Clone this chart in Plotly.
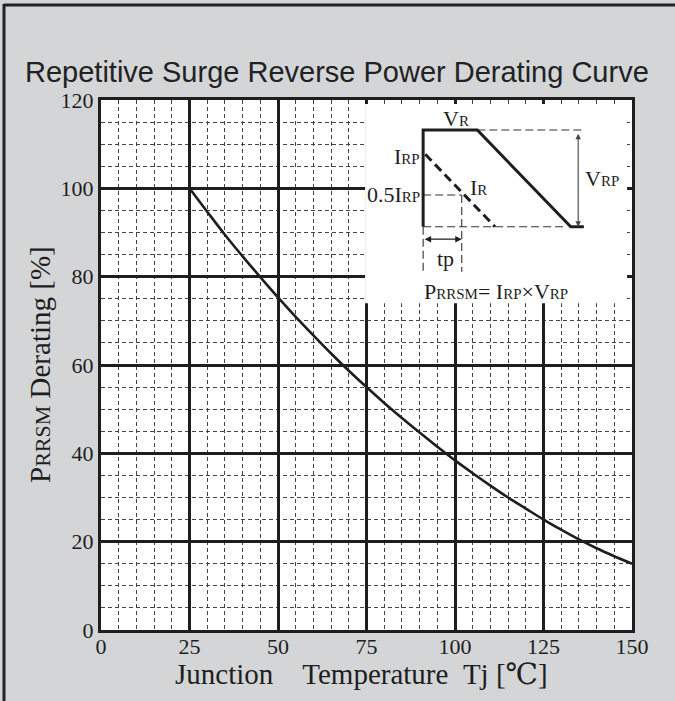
import plotly.graph_objects as go

# ---- data ----
tj = [25, 30, 35, 40, 45, 50, 55, 60, 65, 70, 75, 80, 85, 90, 95, 100,
      105, 110, 115, 120, 125, 130, 135, 140, 145, 150]
derating = [100, 94.7, 89.5, 84.6, 79.9, 75.3, 70.9, 66.7, 62.6, 58.7, 55.0,
            51.4, 48.0, 44.7, 41.5, 38.4, 35.5, 32.7, 30.0, 27.5, 25.0,
            22.7, 20.5, 18.5, 16.7, 15.0]
x_ticks = [0, 25, 50, 75, 100, 125, 150]
y_ticks = [0, 20, 40, 60, 80, 100, 120]

# inset schematic (drawn in the chart's data units)
inset_box_x = [74.6, 148.6]
inset_box_y = [74.0, 119.1]
vr_wave_x = [91.0, 91.0, 106.3, 132.7, 136.4]
vr_wave_y = [91.3, 113.2, 113.2, 91.3, 91.3]
ir_wave_x = [91.6, 111.3]
ir_wave_y = [107.7, 91.3]
guide_x = [106.3, 135.9, None, 91.0, 131.7, None, 91.0, 101.9, None,
           101.9, 101.9, None, 91.0, 91.0]
guide_y = [113.2, 113.2, None, 91.3, 91.3, None, 98.5, 98.5, None,
           98.5, 81.1, None, 91.3, 81.1]
tp_arrow = [91.0, 101.9, 88.5]      # x0, x1, y
vrp_arrow = [134.8, 112.7, 91.3]    # x, y0, y1

INK = "#1e1e1e"
SERIF = "Liberation Serif, DejaVu Serif, serif"

fig = go.Figure()

fig.add_trace(go.Scatter(x=tj, y=derating, mode="lines",
                         line=dict(color=INK, width=2.6, shape="spline"),
                         hoverinfo="skip", showlegend=False))

# schematic traces
fig.add_trace(go.Scatter(x=guide_x, y=guide_y, mode="lines",
                         line=dict(color="#333", width=1.1, dash="8px,4px"),
                         showlegend=False, hoverinfo="skip"))
fig.add_trace(go.Scatter(x=vr_wave_x, y=vr_wave_y, mode="lines",
                         line=dict(color=INK, width=3),
                         showlegend=False, hoverinfo="skip"))
fig.add_trace(go.Scatter(x=ir_wave_x, y=ir_wave_y, mode="lines",
                         line=dict(color=INK, width=3, dash="9px,5px"),
                         showlegend=False, hoverinfo="skip"))

shapes = [
    dict(type="rect", xref="x", yref="y",
         x0=inset_box_x[0], x1=inset_box_x[1],
         y0=inset_box_y[0], y1=inset_box_y[1],
         fillcolor="white", line=dict(width=0), layer="between"),
    # outer frame lines (top & left)
    dict(type="line", xref="paper", yref="paper",
         x0=(4 - 101) / 531, x1=(680 - 101) / 531,
         y0=(630 - 5) / 530, y1=(630 - 5) / 530,
         line=dict(color="#222", width=3)),
    dict(type="line", xref="paper", yref="paper",
         x0=(4 - 101) / 531, x1=(4 - 101) / 531,
         y0=(630 - 4) / 530, y1=(630 - 705) / 530,
         line=dict(color="#222", width=3)),
]

def sm(t, s):
    return f"<span style='font-size:{s}px'>{t}</span>"

big, small = 22, 15
annotations = [
    dict(x=100.4, y=115.8, text="V" + sm("R", small), xanchor="center"),
    dict(x=90.6, y=107.2, text="I" + sm("RP", small), xanchor="right"),
    dict(x=90.6, y=98.5, text="0.5I" + sm("RP", small), xanchor="right"),
    dict(x=103.6, y=100.1, text="I" + sm("R", small), xanchor="left"),
    dict(x=136.2, y=102.3, text="V" + sm("RP", small), xanchor="left"),
    dict(x=97.2, y=84.2, text="tp", xanchor="center"),
    dict(x=90.8, y=76.6,
         text="P" + sm("RRSM", small) + "= I" + sm("RP", small) + "×V" + sm("RP", small),
         xanchor="left"),
]
for a in annotations:
    a.update(xref="x", yref="y", showarrow=False, yanchor="middle",
             font=dict(family=SERIF, size=big, color=INK))

# arrows
annotations += [
    dict(x=tp_arrow[1], y=tp_arrow[2], ax=tp_arrow[0], ay=tp_arrow[2],
         xref="x", yref="y", axref="x", ayref="y", text="", showarrow=True,
         arrowhead=2, arrowside="end+start", arrowsize=1, arrowwidth=1.3,
         arrowcolor=INK),
    dict(x=vrp_arrow[0], y=vrp_arrow[2], ax=vrp_arrow[0], ay=vrp_arrow[1],
         xref="x", yref="y", axref="x", ayref="y", text="", showarrow=True,
         arrowhead=2, arrowside="end+start", arrowsize=1, arrowwidth=1.1,
         arrowcolor="#444"),
]

# axis titles
annotations += [
    dict(xref="paper", yref="paper", x=(361.5 - 101) / 531, y=(630 - 674) / 530,
         xanchor="center", yanchor="middle", showarrow=False,
         text="Junction\u3000Temperature\u00a0\u00a0Tj\u00a0[℃]",
         font=dict(family=SERIF, size=29, color=INK)),
    dict(xref="paper", yref="paper", x=(40 - 101) / 531, y=(630 - 365) / 530,
         xanchor="center", yanchor="middle", showarrow=False, textangle=-90,
         text="P" + sm("RRSM", 22) + " Derating [%]",
         font=dict(family=SERIF, size=29, color=INK)),
]

axis_common = dict(
    showgrid=True, gridcolor=INK, gridwidth=2.6,
    showline=True, mirror=True, linecolor=INK, linewidth=3,
    zeroline=False, ticks="", layer="above traces",
    tickfont=dict(family=SERIF, size=22, color=INK),
    minor=dict(dtick=5, showgrid=True, gridcolor="#444", gridwidth=1,
               griddash="4px,3px"),
)

fig.update_layout(
    width=675, height=701,
    margin=dict(l=101, r=43, t=100, b=71),
    paper_bgcolor="#d3d5d7", plot_bgcolor="white",
    title=dict(text="Repetitive Surge Reverse Power Derating Curve",
               x=25 / 675, xanchor="left", xref="container",
               y=1 - 72 / 701, yanchor="middle", yref="container",
               font=dict(family="Liberation Sans, Arial, sans-serif", size=29,
                         color="#222")),
    xaxis=dict(range=[0, 150], tickvals=x_ticks, ticklabelstandoff=-5,
               **axis_common),
    yaxis=dict(range=[0, 120], tickvals=y_ticks, **axis_common),
    shapes=shapes, annotations=annotations, showlegend=False,
)

fig.write_html("out.html",
               config={"displayModeBar": False},
               post_script="document.body.style.margin='0';"
                           "document.body.style.overflow='hidden';")
